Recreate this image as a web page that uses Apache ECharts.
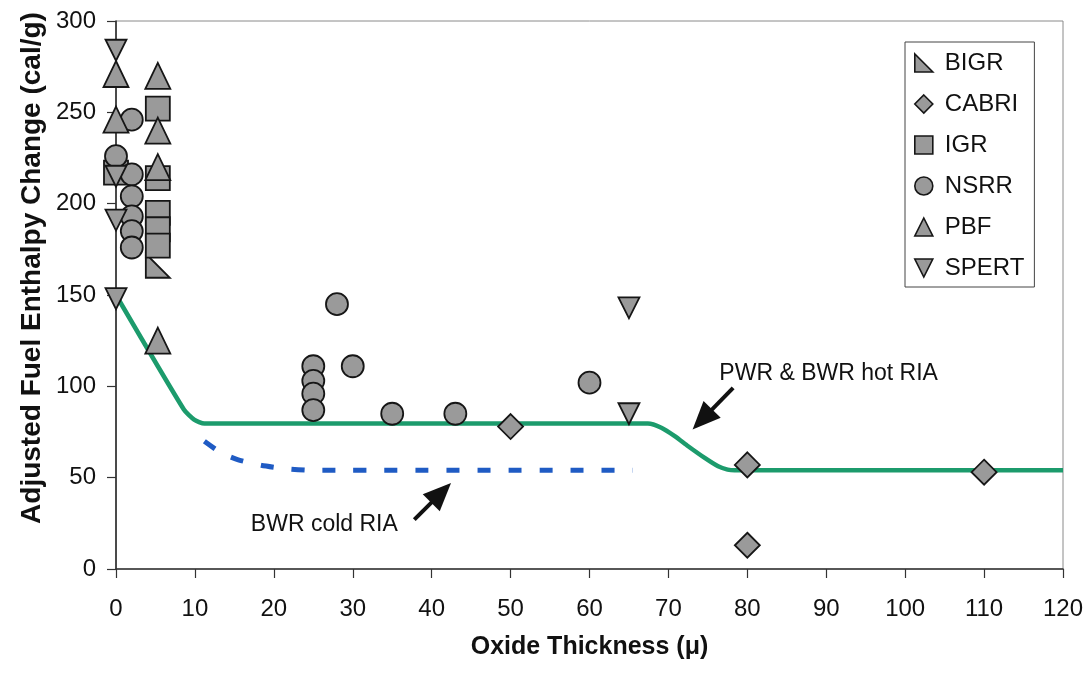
<!DOCTYPE html>
<html>
<head>
<meta charset="utf-8">
<script src="https://cdn.jsdelivr.net/npm/echarts@6/dist/echarts.min.js"></script>
<style>
html,body{margin:0;padding:0;background:#fff;}
#chart{width:1090px;height:673px;}
</style>
</head>
<body>
<div id="chart"></div>
<script>
// ---- data ----
const xTicks = {min: 0, max: 120, interval: 10};
const yTicks = {min: 0, max: 300, interval: 50};

const BIGR  = [[5.3,166]];
const CABRI = [[50,78],[80,57],[80,13],[110,53]];
const IGR   = [[0,217],[5.3,252],[5.3,214],[5.3,195],[5.3,186],[5.3,177]];
const NSRR  = [[0,226],[2,246],[2,216],[2,204],[2,193],[2,185],[2,176],
               [25,111],[25,103],[25,96],[25,87],[28,145],[30,111],[35,85],[43,85],[60,102]];
const PBF   = [[0,271],[5.3,270],[0,246],[5.3,240],[5.3,220],[5.3,125]];
const SPERT = [[0,284],[0,215],[0,191],[0,148],[65,143],[65,85]];

const hotRIA  = [[0,150],[8.6,87.3],[9.9,81.8],[11.2,79.6],[67.4,79.6],[69.1,77.3],[70.8,72.7],
                 [72.5,67.2],[74.6,60.8],[76.3,56.2],[77.5,54.4],[78.4,54],[120,54]];
const coldRIA = [[11.2,69.9],[13.3,63.6],[15.4,59.9],[18.4,56.8],[21.3,55],[25.1,54],[65.5,54]];

const annotTexts = [
  {name:'PWR & BWR hot RIA', value:[90.3,107]},
  {name:'BWR cold RIA', value:[26.4,24.3]}
];
const annotArrows = [
  [[78.2,99.2],[74.3,81.9]],
  [[37.8,27.0],[41.2,41.7]]
];

const yTitle = 'Adjusted Fuel Enthalpy Change (cal/g)';
const xTitle = 'Oxide Thickness (\u03bc)';

// ---- styling ----
const FONT = 'Liberation Sans, Arial, sans-serif';
const markerStyle = {color:'#9a9a9a', borderColor:'#161616', borderWidth:1.8, opacity:1};
const ICON_BIGR = 'path://M0,0 L0,10 L10,10 Z';
const ICON_SPERT = 'path://M0,0 L10,0 L5,10 Z';

const chart = echarts.init(document.getElementById('chart'), null, {renderer:'canvas'});

function scatter(name, data, symbol, size){
  return {name, type:'scatter', data, symbol, symbolSize:size,
          itemStyle:markerStyle, emphasis:{disabled:true}, z:3};
}

chart.setOption({
  animation:false,
  backgroundColor:'#ffffff',
  textStyle:{fontFamily:FONT},
  grid:{left:116, right:27, top:21, bottom:104, show:true, borderColor:'#8a8a8a', borderWidth:1},
  xAxis:{
    type:'value', min:xTicks.min, max:xTicks.max, interval:xTicks.interval,
    axisLine:{show:true, onZero:false, lineStyle:{color:'#333', width:1.5}},
    axisTick:{show:true, inside:false, length:9, lineStyle:{color:'#333', width:1.2}},
    axisLabel:{fontSize:24, color:'#111', margin:28, fontFamily:FONT},
    splitLine:{show:false},
    name:xTitle, nameLocation:'middle', nameGap:66,
    nameTextStyle:{fontSize:25, fontWeight:'bold', color:'#111', fontFamily:FONT}
  },
  yAxis:{
    type:'value', min:yTicks.min, max:yTicks.max, interval:yTicks.interval,
    axisLine:{show:true, onZero:false, lineStyle:{color:'#222', width:1.5}},
    axisTick:{show:true, inside:false, length:9, lineStyle:{color:'#333', width:1.2}},
    axisLabel:{fontSize:24, color:'#111', margin:20, fontFamily:FONT},
    splitLine:{show:false}
  },
  legend:{
    orient:'vertical', left:905, top:42, padding:[9,10,7,9],
    borderColor:'#444', borderWidth:1, backgroundColor:'#fff',
    itemWidth:18, itemHeight:18, itemGap:17,
    itemStyle:{color:'#9a9a9a', borderColor:'#161616', borderWidth:1.6, opacity:1},
    textStyle:{fontSize:24, lineHeight:24, color:'#111', fontFamily:FONT, padding:[0,0,0,7]},
    data:[
      {name:'BIGR', icon:ICON_BIGR},
      {name:'CABRI', icon:'diamond'},
      {name:'IGR', icon:'rect'},
      {name:'NSRR', icon:'circle'},
      {name:'PBF', icon:'triangle'},
      {name:'SPERT', icon:ICON_SPERT}
    ],
    selectedMode:false
  },
  graphic:[{
    type:'text', x:32, y:268, rotation:Math.PI/2,
    style:{text:yTitle, fontSize:28, fontWeight:'bold', fontFamily:FONT, fill:'#111',
           align:'center', verticalAlign:'middle'}
  }],
  series:[
    {name:'hot', type:'line', data:hotRIA, smooth:0.2, showSymbol:false, symbol:'none',
     lineStyle:{color:'#1c9b6c', width:4.5}, z:2, silent:true},
    {name:'cold', type:'line', data:coldRIA, smooth:0.2, showSymbol:false, symbol:'none',
     lineStyle:{color:'#1f5bc4', width:5, type:[13,18]}, z:2, silent:true},
    scatter('BIGR', BIGR, ICON_BIGR, 24),
    scatter('CABRI', CABRI, 'diamond', 25),
    scatter('IGR', IGR, 'rect', 24),
    scatter('NSRR', NSRR, 'circle', 22),
    scatter('PBF', PBF, 'triangle', [25,26]),
    scatter('SPERT', SPERT, ICON_SPERT, 21),
    {name:'annot', type:'scatter', data:annotTexts, symbolSize:0, silent:true, z:5,
     itemStyle:{opacity:1},
     label:{show:true, position:'inside', formatter:p=>p.name, fontSize:23, color:'#111',
            fontFamily:FONT, opacity:1},
     markLine:{
       silent:true, symbol:['none','triangle'], symbolSize:28,
       label:{show:false},
       itemStyle:{color:'#111'},
       lineStyle:{color:'#111', width:4, type:'solid', opacity:1},
       emphasis:{disabled:true},
       data:annotArrows.map(a=>[
         {coord:a[0], symbol:'none'},
         {coord:a[1], symbol:'triangle', symbolSize:[24,28]}
       ])
     }}
  ]
});
</script>
</body>
</html>
